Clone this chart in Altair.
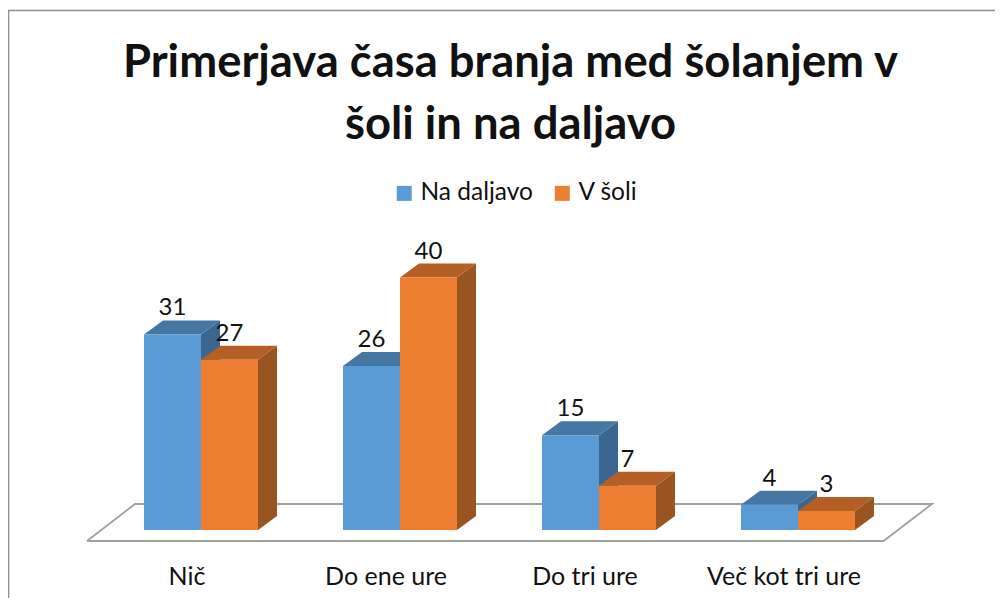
import altair as alt
import pandas as pd

categories = ["Nič", "Do ene ure", "Do tri ure", "Več kot tri ure"]
series_names = ["Na daljavo", "V šoli"]
na_daljavo = [31, 26, 15, 4]
v_soli = [27, 40, 7, 3]
colors = {"Na daljavo": ("#5B9BD5", "#4676A2", "#3B668F"),
          "V šoli": ("#ED7D31", "#B45F25", "#985421")}

W, H = 987, 590
PX_X = 199.0      # pixels per category
PX_Y = 6.31       # pixels per unit
X0, Y0 = 136.0, 522.0
BAR = 57 / PX_X
DX = 19 / PX_X
DY = 14 / PX_Y
x_scale = alt.Scale(domain=[-X0 / PX_X, (W - X0) / PX_X], nice=False, zero=False)
y_scale = alt.Scale(domain=[(Y0 - H) / PX_Y, Y0 / PX_Y], nice=False, zero=False)
X = lambda f, **k: alt.X(f, type="quantitative", scale=x_scale, axis=None, **k)
Y = lambda f, **k: alt.Y(f, type="quantitative", scale=y_scale, axis=None, **k)

floor = pd.DataFrame({
    "x": [(87 - 144) / PX_X, (135 - 144) / PX_X, (932 - 144) / PX_X, (883.5 - 144) / PX_X, (87 - 144) / PX_X],
    "y": [-11 / PX_Y, 26 / PX_Y, 26 / PX_Y, -11 / PX_Y, -11 / PX_Y],
    "o": [0, 1, 2, 3, 4],
})
layers = [
    alt.Chart(floor).mark_line(color="#a0a0a0", strokeWidth=1.8, clip=False).encode(
        x=X("x"), y=Y("y"), order="o:Q"),
]

labels = []
for s, (name, vals) in enumerate(zip(series_names, [na_daljavo, v_soli])):
    front, side, top = [], [], []
    for i, (c, v) in enumerate(zip(categories, vals)):
        l = i + s * BAR
        r = l + BAR
        front.append({"x": l, "x2": r, "y": 0, "y2": v, "series": name})
        side += [{"g": i, "x": r, "y": 0, "y2": v},
                 {"g": i, "x": r + DX, "y": DY, "y2": v + DY}]
        top += [{"g": i, "x": l, "y": v, "y2": v},
                {"g": i, "x": l + DX, "y": v, "y2": v + DY},
                {"g": i, "x": r, "y": v, "y2": v + DY},
                {"g": i, "x": r + DX, "y": v + DY, "y2": v + DY}]
        labels.append({"x": (l + r) / 2, "y": v + DY, "t": str(v)})
    main, tc, sc = colors[name]
    layers.append(alt.Chart(pd.DataFrame(side)).mark_area(color=sc).encode(
        x=X("x"), y=Y("y"), y2="y2:Q", detail="g:N"))
    layers.append(alt.Chart(pd.DataFrame(top)).mark_area(color=tc).encode(
        x=X("x"), y=Y("y"), y2="y2:Q", detail="g:N"))
    layers.append(alt.Chart(pd.DataFrame(front)).mark_bar().encode(
        x=X("x"), x2="x2:Q", y=Y("y"), y2="y2:Q",
        color=alt.Color("series:N",
                        scale=alt.Scale(domain=series_names, range=[colors[n][0] for n in series_names]),
                        legend=alt.Legend(title=None, orient="none", legendX=384, legendY=173,
                                          direction="horizontal", symbolType="square", symbolSize=225,
                                          symbolStrokeWidth=0, symbolOpacity=1,
                                          labelFontSize=24.5, labelFont="Lato", labelColor="#111111",
                                          columnPadding=17, labelOffset=4))))

layers.append(alt.Chart(pd.DataFrame(labels)).mark_text(
    font="Lato", fontSize=24, color="#111111", baseline="middle", dy=-12).encode(
    x=X("x"), y=Y("y"), text="t:N"))

axis_labels = pd.DataFrame({"x": [i + 43 / PX_X for i in range(4)],
                            "y": [-47 / PX_Y] * 4, "t": categories})
layers.append(alt.Chart(axis_labels).mark_text(
    font="Lato", fontSize=25, color="#111111", baseline="middle").encode(
    x=X("x"), y=Y("y"), text="t:N"))

border_src = pd.DataFrame({"a": [0]})
layers.append(alt.Chart(border_src).mark_rule(color="#8f8f8f", strokeWidth=1.6).encode(
    x=alt.value(0), x2=alt.value(W), y=alt.value(2.5)))
layers.append(alt.Chart(border_src).mark_rule(color="#8f8f8f", strokeWidth=1.6).encode(
    x=alt.value(0.5), y=alt.value(2.5), y2=alt.value(H)))

chart = alt.layer(*layers).properties(
    width=W, height=H, padding=0,
    autosize=alt.AutoSizeParams(type="none"),
    title=alt.TitleParams(
        text=["Primerjava časa branja med šolanjem v", "šoli in na daljavo"],
        font="Lato", fontSize=45.4, fontWeight="bold", color="#111111",
        anchor="middle", frame="group", lineHeight=62, baseline="middle",
        dx=9, dy=162, offset=0),
).configure_view(stroke=None).resolve_scale(x="shared", y="shared")

chart.save("out.html", embed_options={"renderer": "svg", "actions": False})
